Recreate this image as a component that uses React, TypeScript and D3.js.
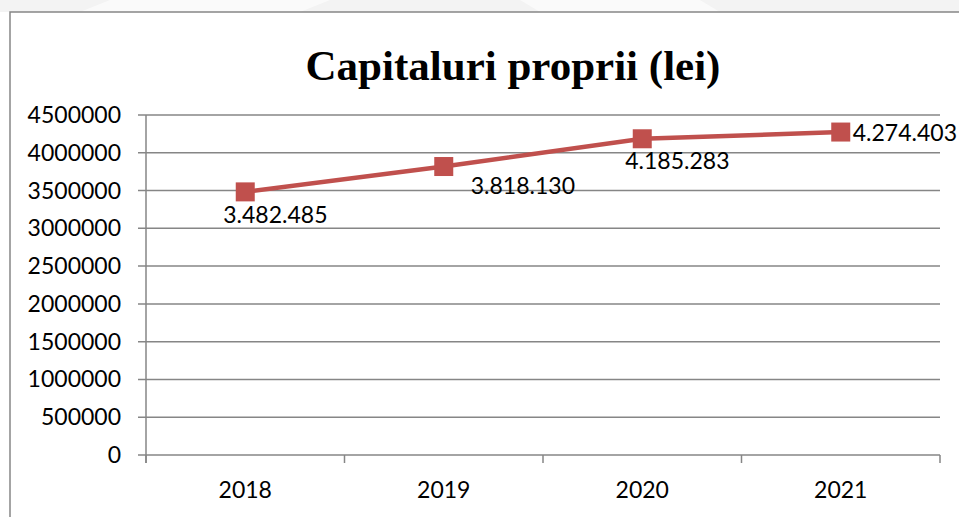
import React from "react";
import * as d3 from "d3";

const years = ["2018", "2019", "2020", "2021"];
const values = [3482485, 3818130, 4185283, 4274403];
const valueLabels = ["3.482.485", "3.818.130", "4.185.283", "4.274.403"];
const yTicks = [0, 500000, 1000000, 1500000, 2000000, 2500000, 3000000, 3500000, 4000000, 4500000];
const title = "Capitaluri proprii (lei)";

// label placement relative to point: [dx, dy]
const labelOffsets: [number, number][] = [
  [-22, 31],
  [27, 27],
  [-17, 30],
  [12, 9],
];

const W = 959;
const H = 517;
const M = { left: 146, right: 940, top: 115, bottom: 455 };
const GRAY = "#868686";
const RED = "#c0504d";
const FONT = "Lato, 'Open Sans', sans-serif";
const FS = 23;

export default function App() {
  React.useEffect(() => {
    document.body.style.margin = "0";
  }, []);
  const x = d3.scaleBand<string>().domain(years).range([M.left, M.right]).padding(0);
  const y = d3.scaleLinear().domain([0, 4500000]).range([M.bottom, M.top]);
  const cx = (d: string) => (x(d) as number) + x.bandwidth() / 2;
  const line = d3
    .line<number>()
    .x((_, i) => cx(years[i]))
    .y((v) => y(v));
  const boundaries = [...years.map((d) => x(d) as number), M.right];
  const sq = 19;

  return (
    <div style={{ position: "absolute", left: 0, top: 0 }}>
      <svg width={W} height={H} style={{ display: "block", background: "#fff" }}>
        <rect x={0} y={0} width={W} height={12} fill="#f3f3f3" />
        <polygon points="110,0 330,0 300,12 80,12" fill="#fafafa" />
        <polygon points="520,0 700,0 720,12 540,12" fill="#fafafa" />
        <rect x={10} y={12} width={W} height={H} fill="#fff" stroke={GRAY} strokeWidth={1.5} />
        <text
          x={513}
          y={80}
          textAnchor="middle"
          fontFamily="'Liberation Serif', 'Times New Roman', serif"
          fontWeight="bold"
          fontSize={43}
          fill="#000"
        >
          {title}
        </text>
        {yTicks.map((t) => (
          <g key={t}>
            <line x1={138} x2={M.right} y1={y(t)} y2={y(t)} stroke={GRAY} strokeWidth={1.5} />
            <text
              x={121}
              y={y(t)}
              dy="0.35em"
              textAnchor="end"
              fontFamily={FONT}
              fontSize={FS}
              fill="#000"
            >
              {t}
            </text>
          </g>
        ))}
        <line x1={M.left} x2={M.left} y1={M.top} y2={M.bottom + 8} stroke={GRAY} strokeWidth={1.5} />
        {boundaries.map((b, i) => (
          <line key={i} x1={b} x2={b} y1={M.bottom} y2={M.bottom + 8} stroke={GRAY} strokeWidth={1.5} />
        ))}
        {years.map((d) => (
          <text key={d} x={cx(d)} y={498} textAnchor="middle" fontFamily={FONT} fontSize={FS} fill="#000">
            {d}
          </text>
        ))}
        <path d={line(values) || ""} fill="none" stroke={RED} strokeWidth={4.5} />
        {values.map((v, i) => (
          <rect key={i} x={cx(years[i]) - sq / 2} y={y(v) - sq / 2} width={sq} height={sq} fill={RED} />
        ))}
        {values.map((v, i) => (
          <text
            key={"l" + i}
            x={cx(years[i]) + labelOffsets[i][0]}
            y={y(v) + labelOffsets[i][1]}
            textAnchor="start"
            fontFamily={FONT}
            fontSize={FS}
            fill="#000"
          >
            {valueLabels[i]}
          </text>
        ))}
      </svg>
    </div>
  );
}
